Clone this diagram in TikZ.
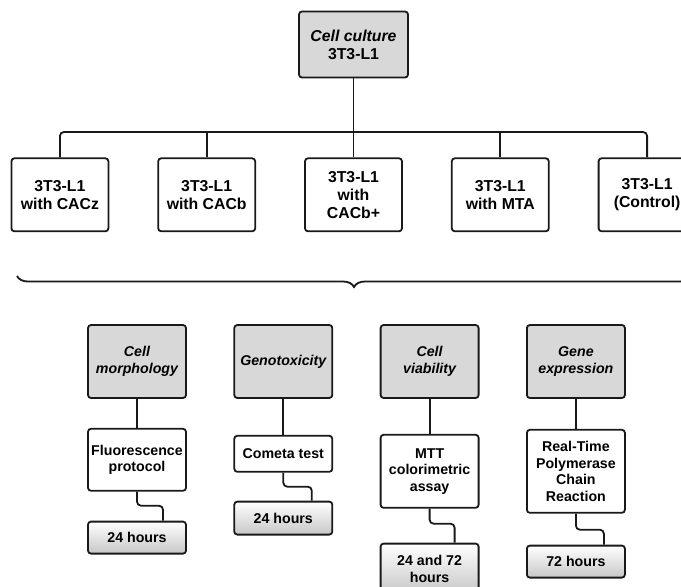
\documentclass[tikz,border=0pt]{standalone}
\usepackage{fontspec}
\setmainfont{Liberation Sans}
\usepackage{tikz}
\usetikzlibrary{positioning,calc,decorations.pathreplacing}
\usepackage{xcolor}
\definecolor{boxgray}{RGB}{216,216,216}
\definecolor{darkline}{RGB}{25,25,25}
\newcommand{\bigfont}{\fontsize{15.8}{18}\selectfont\bfseries}
\newcommand{\smallfont}{\fontsize{14.2}{16.7}\selectfont\bfseries}
\tikzset{
  box/.style={draw=darkline,line width=1.8pt,rounded corners=3pt,minimum width=97pt,minimum height=73pt,inner sep=2pt,align=center,fill=white,font=\bigfont},
  rootbox/.style={box,fill=boxgray,minimum width=109pt,minimum height=66pt},
  headbox/.style={box,fill=boxgray,minimum width=98pt,font=\smallfont\itshape},
  methodbox/.style={box,minimum width=98pt,font=\smallfont},
  timebox/.style={box,minimum width=98pt,font=\smallfont,top color=white,bottom color=black!22},
  link/.style={darkline,line width=1.8pt,rounded corners=4pt},
  bracket/.style={decorate,decoration={brace,mirror,amplitude=11pt},darkline,line width=1.8pt}
}
\begin{document}
\begin{tikzpicture}[x=1pt,y=1pt]
\useasboundingbox (0,0) rectangle (681,-587);
% cell culture and treatments
\node[rootbox] (culture) at (353.5,-44.5) {\itshape Cell culture\\3T3-L1};
\node[box,below=79pt of culture] (cacbp) {3T3-L1\\with\\CACb+};
\node[box,left=48pt of cacbp] (cacb) {3T3-L1\\with CACb};
\node[box,left=48pt of cacb] (cacz) {3T3-L1\\with CACz};
\node[box,right=48pt of cacbp] (mta) {3T3-L1\\with MTA};
\node[box,right=48pt of mta] (control) {3T3-L1\\(Control)};
\coordinate (bus) at (353.5,-132);
\draw[link] (culture.south) -- (bus);
\draw[link] (cacz.north) |- (bus) -| (control.north);
\foreach \t in {cacb,cacbp,mta}
  \draw[link] (\t.north) -- (\t.north |- bus);
% brace
\coordinate (braceL) at (17,-276);
\coordinate (braceR) at (691,-276);
\draw[bracket] (braceL) -- (braceR);
% assays
\node[headbox] (morph) at (137,-361.5) {Cell\\morphology};
\node[headbox,right=46.5pt of morph] (geno) {Genotoxicity};
\node[headbox,right=46.5pt of geno] (viab) {Cell\\viability};
\node[headbox,right=46.5pt of viab] (gene) {Gene\\expression};
\node[methodbox,below=29pt of morph,minimum height=62pt] (fluor) {Fluorescence\\protocol};
\node[methodbox,below=36pt of geno,minimum height=36pt] (comet) {Cometa test};
\node[methodbox,below=35pt of viab,minimum height=73pt] (mtt) {MTT\\colorimetric\\assay};
\node[methodbox,below=30pt of gene,minimum height=83pt] (pcr) {Real-Time\\Polymerase\\Chain\\Reaction};
\node[timebox,below=29pt of fluor,minimum height=32pt] (time1) {24 hours};
\node[timebox,below=28pt of comet,minimum height=33pt] (time2) {24 hours};
\node[timebox,below=34pt of mtt,minimum height=50pt] (time3) {24 and 72\\hours};
\node[timebox,below=31pt of pcr,minimum height=32pt] (time4) {72 hours};
\foreach \a/\b in {morph/fluor,geno/comet,viab/mtt,gene/pcr}
  \draw[link] (\a) -- (\b);
\foreach \a/\b/\dy/\dx in {fluor/time1/14/26,comet/time2/14/28.5,mtt/time3/15/25,pcr/time4/16/28}
  \draw[link] (\a.south) -- ++(0,-\dy) -| ([xshift=\dx pt]\b.north);
\end{tikzpicture}
\end{document}
